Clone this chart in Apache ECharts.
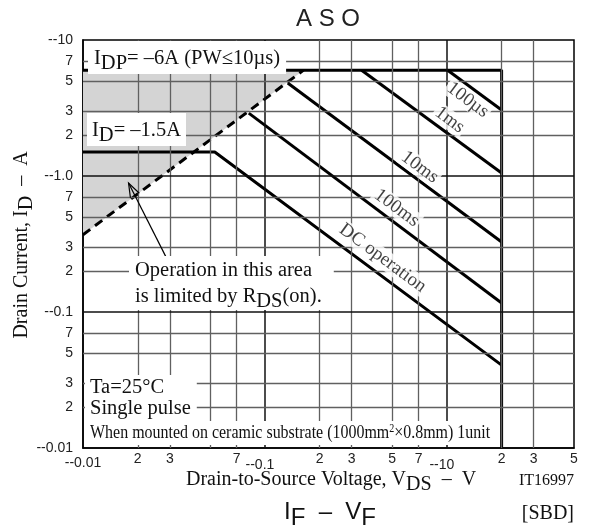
<!DOCTYPE html>
<html>
<head>
<meta charset="utf-8">
<script src="https://cdn.jsdelivr.net/npm/echarts@6.0.0/dist/echarts.min.js"></script>
<style>
html,body{margin:0;padding:0;background:#ffffff;}
#chart{width:589px;height:529px;}
</style>
</head>
<body>
<div id="chart"></div>
<script>
// ---------- data ----------
const xTickValues = [0.01,0.02,0.03,0.05,0.07,0.1,0.2,0.3,0.5,0.7,1,2,3,5];
const xTickLabels = ['--0.01','2','3','','7','--0.1','2','3','5','7','--10','2','3','5'];
const yTickValues = [0.01,0.02,0.03,0.05,0.07,0.1,0.2,0.3,0.5,0.7,1,2,3,5,7,10];
const yTickLabels = ['--0.01','2','3','5','7','--0.1','2','3','5','7','--1.0','2','3','5','7','--10'];

const idpLimit    = [[0.01,6],[2,6],[2,0.01]];
const rdsOnLimit  = [[0.01,0.37],[0.163,6]];
const rdsShade    = [[0.01,0.37],[0.163,6],[0.01,6]];
const dcOperation = [[0.01,1.5],[0.053,1.5],[2,0.0407]];
const pulse100ms  = [[0.0815,2.9],[2,0.1165]];
const pulse10ms   = [[0.1335,4.83],[2,0.327]];
const pulse1ms    = [[0.34,6],[2,1.052]];
const pulse100us  = [[1.01,6],[2,3.06]];
const curveNames  = ['100µs','1ms','10ms','100ms','DC operation'];
const arrowFrom   = [0.0288,0.249];
const arrowTo     = [0.0178,0.888];

// ---------- helpers ----------
const SERIF = '"Liberation Serif","Times New Roman",serif';
const SANS  = '"Liberation Sans",Arial,sans-serif';
const near = (a,b) => Math.abs(Math.log10(a) - Math.log10(b)) < 1e-3;
const isDecade = v => near(v, Math.pow(10, Math.round(Math.log10(v))));

const chart = echarts.init(document.getElementById('chart'), null, {renderer:'canvas'});

const gridMarks = [];
xTickValues.forEach(v => {
  if (near(v,0.01) || near(v,5)) return;
  gridMarks.push({xAxis: v, lineStyle: {color: isDecade(v) ? '#111' : '#606060', width: isDecade(v) ? 1.5 : 1.3, type:'solid'}});
});
yTickValues.forEach(v => {
  if (near(v,0.01) || near(v,10)) return;
  gridMarks.push({yAxis: v, lineStyle: {color: isDecade(v) ? '#111' : '#606060', width: isDecade(v) ? 1.5 : 1.3, type:'solid'}});
});

const boldLine = (name, data, extra) => Object.assign({
  name, type:'line', data, showSymbol:false, symbol:'none', silent:true, z:3,
  lineStyle:{color:'#000', width:3}, animation:false
}, extra || {});

const labelPos = [[1.303,3.62],[1.037,2.58],[0.71,1.16],[0.53,0.582],[0.444,0.249]];

const option = {
  animation:false,
  backgroundColor:'#ffffff',
  grid:{left:83, top:40, right:15, bottom:81, show:true, borderColor:'#000', borderWidth:1.5, containLabel:false},
  xAxis:{
    type:'log', logBase:10, min:0.01, max:5,
    axisLine:{show:true, lineStyle:{color:'#000', width:1.5}},
    axisTick:{show:false},
    splitLine:{show:false},
    minorTick:{show:false}, minorSplitLine:{show:false},
    axisLabel:{
      customValues: xTickValues,
      margin:4, fontSize:14, fontFamily:SANS, color:'#222',
      formatter: v => {
        const i = xTickValues.findIndex(t => near(t,v));
        if (i < 0) return '';
        const s = xTickLabels[i];
        if (s.indexOf('--') === 0 && i > 0) return '{d|' + s + '}';
        if (s.indexOf('--') === 0) return '{e|' + s + '}';
        return s;
      },
      rich:{
        d:{fontSize:14, fontFamily:SANS, color:'#222', padding:[6,10,0,0]},
        e:{fontSize:14, fontFamily:SANS, color:'#222', padding:[4,0,0,0]}
      }
    }
  },
  yAxis:{
    type:'log', logBase:10, min:0.01, max:10,
    axisLine:{show:true, lineStyle:{color:'#000', width:1.5}},
    axisTick:{show:false},
    splitLine:{show:false},
    minorTick:{show:false}, minorSplitLine:{show:false},
    axisLabel:{
      customValues: yTickValues,
      margin:10, fontSize:14, fontFamily:SANS, color:'#222',
      formatter: v => {
        const i = yTickValues.findIndex(t => near(t,v));
        return i < 0 ? '' : yTickLabels[i];
      }
    }
  },
  series:[
    {
      name:'shade', type:'custom', z:1, silent:true, animation:false,
      data:[[0.01,1]],
      renderItem:(params, api) => ({
        type:'polygon',
        shape:{points: rdsShade.map(p => api.coord(p))},
        style:{fill:'#d4d4d4', stroke:'none'}
      })
    },
    {
      name:'grid', type:'line', z:2, silent:true, animation:false,
      data:[[0.01,0.01]], showSymbol:false, symbol:'none', lineStyle:{opacity:0},
      markLine:{silent:true, symbol:['none','none'], label:{show:false}, animation:false, data:gridMarks}
    },
    boldLine('IDP limit', idpLimit),
    boldLine('RDS(on) limit', rdsOnLimit, {lineStyle:{color:'#000', width:3, type:[9,6]}}),
    boldLine('DC operation', dcOperation),
    boldLine('100ms', pulse100ms),
    boldLine('10ms', pulse10ms),
    boldLine('1ms', pulse1ms),
    boldLine('100µs', pulse100us),
    {
      name:'arrow', type:'line', z:5, silent:true, animation:false,
      data:[arrowFrom, arrowTo], showSymbol:false, symbol:'none',
      lineStyle:{color:'#000', width:1.2}
    },
    {
      name:'arrowhead', type:'custom', z:5, silent:true, animation:false,
      data:[arrowTo],
      renderItem:(params, api) => {
        const tip = api.coord(arrowTo), tail = api.coord(arrowFrom);
        const dx = tail[0]-tip[0], dy = tail[1]-tip[1];
        const L = Math.sqrt(dx*dx+dy*dy), ux = dx/L, uy = dy/L;
        const len = 14, wid = 5;
        const bx = tip[0]+ux*len, by = tip[1]+uy*len;
        return {type:'polyline', shape:{points:[[bx - uy*wid, by + ux*wid], tip, [bx + uy*wid, by - ux*wid]]},
                style:{stroke:'#000', lineWidth:1.2, fill:'none'}};
      }
    },
    {
      name:'curve labels', type:'scatter', z:6, silent:true, animation:false,
      symbolSize:1, itemStyle:{color:'rgba(0,0,0,0)'},
      data: labelPos.map((p,i) => ({value:p, name:curveNames[i]})),
      label:{
        show:true, position:'inside', formatter:p => p.name, rotate:-36.5,
        fontFamily:SERIF, fontSize:19, color:'#111',
        backgroundColor:'#fff', padding:[0,2]
      },
      labelLayout:{hideOverlap:false}
    }
  ],
  graphic:[
    {type:'text', x:328, y:19, z:100, style:{text:'A S O', font:'24px ' + SANS, fill:'#222', align:'center', verticalAlign:'middle'}},
    {type:'text', x:88, y:41, z:100, style:{
      text:'I{s|DP}= –6A (PW≤10µs)', fontFamily:SERIF, fontSize:20.5, fill:'#111',
      backgroundColor:'#fff', padding:[2,6,0,6],
      rich:{s:{fontFamily:SERIF, fontSize:20.5, fill:'#111', padding:[10,0,0,0]}}
    }},
    {type:'text', x:87, y:113, z:100, style:{
      text:'I{s|D}= –1.5A', fontFamily:SERIF, fontSize:20.5, fill:'#111',
      backgroundColor:'#fff', padding:[2,5,0,5],
      rich:{s:{fontFamily:SERIF, fontSize:20.5, fill:'#111', padding:[10,0,0,0]}}
    }},
    {type:'text', x:129, y:256, z:100, style:{
      text:'Operation in this area\nis limited by R{s|DS}(on).', fontFamily:SERIF, fontSize:20.5, fill:'#111', lineHeight:26,
      backgroundColor:'#fff', padding:[2,12,0,6],
      rich:{s:{fontFamily:SERIF, fontSize:20.5, fill:'#111', padding:[10,0,0,0], lineHeight:26}}
    }},
    {type:'text', x:85, y:375, z:100, style:{
      text:'Ta=25°C\nSingle pulse', fontFamily:SERIF, fontSize:20.5, fill:'#111', lineHeight:21,
      backgroundColor:'#fff', padding:[2,6,3,5]
    }},
    {type:'text', x:85, y:421, z:100, scaleX:0.84, style:{
      text:'When mounted on ceramic substrate (1000mm{u|2}×0.8mm) 1unit', fontFamily:SERIF, fontSize:19, fill:'#111',
      backgroundColor:'#fff', padding:[2,8,2,6],
      rich:{u:{fontFamily:SERIF, fontSize:12, fill:'#111', padding:[0,0,8,0]}}
    }},
    {type:'text', x:22, y:245, z:100, rotation:Math.PI/2, style:{
      text:'Drain Current, I{s|D}  –  A', fontFamily:SERIF, fontSize:20, fill:'#111', align:'center', verticalAlign:'middle',
      rich:{s:{fontFamily:SERIF, fontSize:20, fill:'#111', padding:[10,0,0,0]}}
    }},
    {type:'text', x:331, y:480, z:100, style:{
      text:'Drain-to-Source Voltage, V{s|DS}  –  V', fontFamily:SERIF, fontSize:20, fill:'#111', align:'center', verticalAlign:'middle',
      rich:{s:{fontFamily:SERIF, fontSize:20, fill:'#111', padding:[10,0,0,0]}}
    }},
    {type:'text', x:574, y:481, z:100, style:{text:'IT16997', font:'16px ' + SERIF, fill:'#111', align:'right', verticalAlign:'middle'}},
    {type:'text', x:330, y:512, z:100, style:{
      text:'I{s|F}  –  V{s|F}', fontFamily:SANS, fontSize:24, fill:'#111', align:'center', verticalAlign:'middle',
      rich:{s:{fontFamily:SANS, fontSize:24, fill:'#111', padding:[12,0,0,0]}}
    }},
    {type:'text', x:574, y:514, z:100, style:{text:'[SBD]', font:'20px ' + SERIF, fill:'#111', align:'right', verticalAlign:'middle'}},
    {type:'text', x:73, y:536, z:100, style:{text:'--1.0', font:'14px ' + SANS, fill:'#222', align:'right', verticalAlign:'middle'}}
  ]
};
chart.setOption(option);
</script>
</body>
</html>
